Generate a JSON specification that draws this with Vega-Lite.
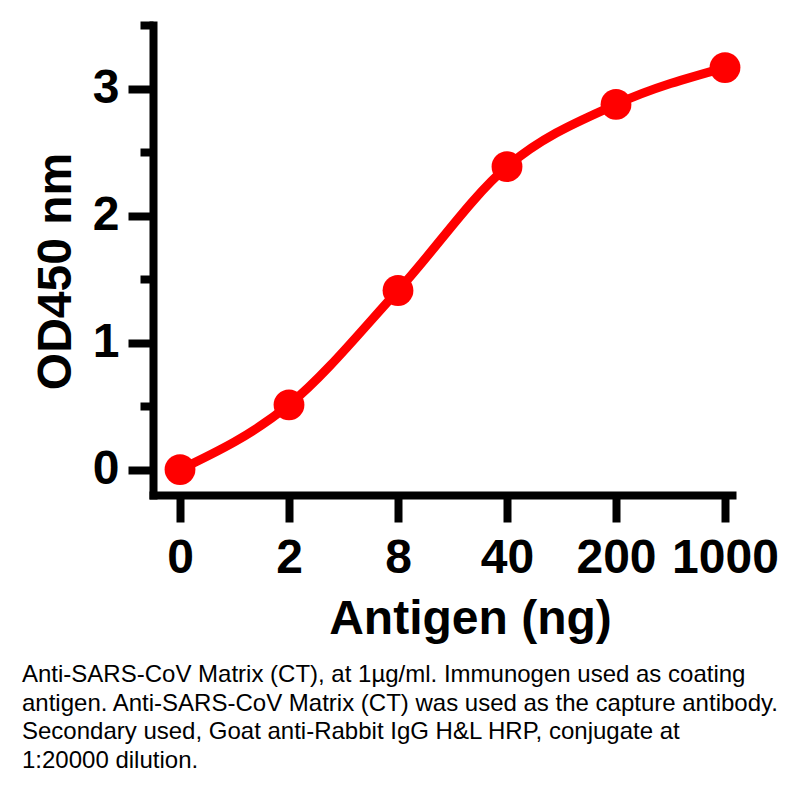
{
  "$schema": "https://vega.github.io/schema/vega-lite/v6.json",
  "width": 579,
  "height": 470,
  "autosize": {"type": "none"},
  "padding": {"left": 153, "top": 25, "right": 78, "bottom": 315},
  "background": "white",
  "config": {
    "view": {"stroke": null},
    "font": "Liberation Sans",
    "axis": {"grid": false}
  },
  "title": {
    "text": [
      "Anti-SARS-CoV Matrix (CT), at 1µg/ml. Immunogen used as coating",
      "antigen. Anti-SARS-CoV Matrix (CT) was used as the capture antibody.",
      "Secondary used, Goat anti-Rabbit IgG H&L HRP, conjugate at",
      "1:20000 dilution."
    ],
    "orient": "bottom",
    "anchor": "start",
    "frame": "group",
    "dx": -131,
    "offset": 20,
    "font": "Liberation Sans",
    "fontSize": 24,
    "fontWeight": "normal",
    "lineHeight": 28.5,
    "color": "black"
  },
  "data": {
    "values": [
      {"antigen": "0", "od": 0.0},
      {"antigen": "2", "od": 0.51},
      {"antigen": "8", "od": 1.41},
      {"antigen": "40", "od": 2.385},
      {"antigen": "200", "od": 2.875},
      {"antigen": "1000", "od": 3.165}
    ]
  },
  "encoding": {
    "x": {
      "field": "antigen",
      "type": "ordinal",
      "sort": null,
      "scale": {"type": "point", "padding": 0.156, "align": 0.794},
      "axis": {
        "title": "Antigen (ng)",
        "labelAngle": 0,
        "domainColor": "black",
        "domainWidth": 8,
        "domainCap": "square",
        "tickColor": "black",
        "tickWidth": 8,
        "tickSize": 27,
        "labelPadding": 12,
        "labelFont": "Liberation Sans",
        "labelFontSize": 48,
        "labelFontWeight": "bold",
        "labelColor": "black",
        "titleFont": "Liberation Sans",
        "titleFontSize": 48,
        "titleFontWeight": "bold",
        "titleColor": "black",
        "titlePadding": 13,
        "titleX": 317
      }
    },
    "y": {
      "field": "od",
      "type": "quantitative",
      "scale": {"domain": [-0.2, 3.5], "nice": false, "zero": false},
      "axis": {
        "title": "OD450 nm",
        "values": [0, 0.5, 1, 1.5, 2, 2.5, 3, 3.5],
        "labelExpr": "datum.value % 1 === 0 ? toString(datum.value) : ''",
        "domainColor": "black",
        "domainWidth": 8,
        "domainCap": "square",
        "tickColor": "black",
        "tickWidth": 8,
        "tickSize": {"condition": {"test": "datum.value % 1 === 0", "value": 25}, "value": 13},
        "labelPadding": 9,
        "labelFont": "Liberation Sans",
        "labelFontSize": 48,
        "labelFontWeight": "bold",
        "labelColor": "black",
        "titleFont": "Liberation Sans",
        "titleFontSize": 48,
        "titleFontWeight": "bold",
        "titleColor": "black",
        "titlePadding": 12,
        "titleY": 246
      }
    }
  },
  "layer": [
    {"mark": {"type": "line", "interpolate": "monotone", "color": "#ff0000", "strokeWidth": 9}},
    {"mark": {"type": "point", "filled": true, "size": 950, "color": "#ff0000", "opacity": 1}}
  ]
}
